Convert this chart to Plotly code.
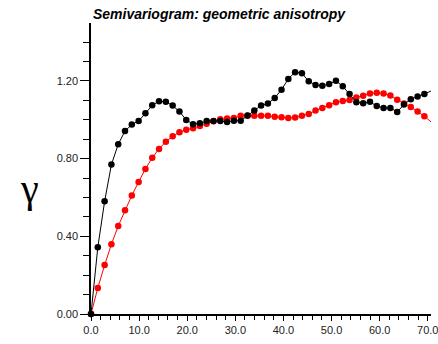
import plotly.graph_objects as go

# Lag distances (diagonal steps of sqrt(2))
lags = [0.0, 1.414, 2.828, 4.243, 5.657, 7.071, 8.485, 9.899, 11.314, 12.728,
        14.142, 15.556, 16.971, 18.385, 19.799, 21.213, 22.627, 24.042, 25.456, 26.870,
        28.284, 29.698, 31.113, 32.527, 33.941, 35.355, 36.770, 38.184, 39.598, 41.012,
        42.426, 43.841, 45.255, 46.669, 48.083, 49.497, 50.912, 52.326, 53.740, 55.154,
        56.569, 57.983, 59.397, 60.811, 62.225, 63.640, 65.054, 66.468, 67.882, 69.296,
        70.711]

# Experimental semivariogram, first direction (black)
gamma_a = [0.000, 0.343, 0.580, 0.769, 0.874, 0.942, 0.975, 0.994, 1.033, 1.075,
           1.095, 1.093, 1.073, 1.042, 0.999, 0.977, 0.982, 0.994, 0.994, 0.994,
           0.989, 0.995, 0.995, 1.022, 1.047, 1.073, 1.083, 1.112, 1.155, 1.210,
           1.245, 1.239, 1.198, 1.179, 1.175, 1.184, 1.201, 1.172, 1.132, 1.090,
           1.085, 1.092, 1.071, 1.061, 1.061, 1.040, 1.078, 1.106, 1.119, 1.133,
           1.148]

# Experimental semivariogram, second direction (red)
gamma_b = [0.000, 0.134, 0.252, 0.359, 0.453, 0.534, 0.610, 0.680, 0.747, 0.804,
           0.850, 0.887, 0.915, 0.936, 0.949, 0.956, 0.968, 0.980, 0.992, 1.003,
           1.006, 1.009, 1.020, 1.020, 1.020, 1.020, 1.020, 1.016, 1.013, 1.009,
           1.011, 1.021, 1.030, 1.047, 1.061, 1.075, 1.090, 1.097, 1.102, 1.114,
           1.124, 1.135, 1.139, 1.135, 1.125, 1.103, 1.084, 1.065, 1.043, 1.018,
           0.988]

x_ticks = [0, 10, 20, 30, 40, 50, 60, 70]
y_ticks = [0.0, 0.4, 0.8, 1.2]

fig = go.Figure()
fig.add_trace(go.Scatter(
    x=lags, y=gamma_b, mode="lines+markers",
    line=dict(color="#ff0000", width=1),
    marker=dict(color="#ff0000", size=6.5),
    cliponaxis=False, showlegend=False))
fig.add_trace(go.Scatter(
    x=lags, y=gamma_a, mode="lines+markers",
    line=dict(color="#000000", width=1),
    marker=dict(color="#000000", size=6.5),
    cliponaxis=False, showlegend=False))

fig.update_layout(
    width=438, height=344,
    margin=dict(l=91, r=0, t=23, b=30),
    paper_bgcolor="white", plot_bgcolor="white",
    font=dict(family="Liberation Sans, Arial, sans-serif", size=11, color="#222"),
    xaxis=dict(
        range=[0, 70.67], tickvals=x_ticks, tickformat=".1f",
        ticklabeloverflow="allow",
        showgrid=False, zeroline=False,
        showline=True, linecolor="black", linewidth=1.5,
        ticks="outside", ticklen=5, tickcolor="black", tickwidth=1,
        minor=dict(dtick=2, ticks="outside", ticklen=4, tickcolor="black", showgrid=False),
    ),
    yaxis=dict(
        range=[0, 1.498], tickvals=y_ticks, tickformat=".2f",
        showgrid=False, zeroline=False,
        showline=True, linecolor="black", linewidth=1.5,
        ticks="outside", ticklen=9, tickcolor="black", tickwidth=1,
        minor=dict(dtick=0.1, ticks="outside", ticklen=6, tickcolor="black", showgrid=False),
    ),
    annotations=[
        dict(text="<b><i>Semivariogram: geometric anisotropy</i></b>",
             xref="paper", yref="paper", x=0.0, y=1.0, xanchor="left", yanchor="bottom",
             xshift=0, yshift=-1, showarrow=False,
             font=dict(size=14, color="black", family="Liberation Sans, Arial, sans-serif")),
        dict(text="γ", xref="paper", yref="paper", x=0, y=0.43,
             xanchor="center", yanchor="middle", xshift=-62, showarrow=False,
             font=dict(size=40, color="black", family="Liberation Serif, Times New Roman, serif")),
    ],
)

fig.write_html("out.html")
